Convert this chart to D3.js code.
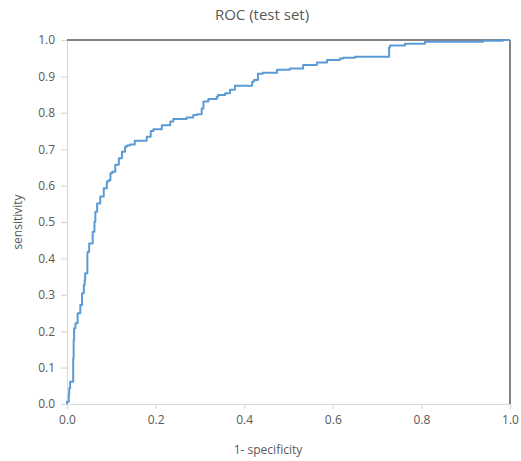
<!DOCTYPE html>
<html><head><meta charset="utf-8">
<script src="https://cdn.jsdelivr.net/npm/d3@7"></script>
<style>body{margin:0;background:#fff}</style>
</head><body>
<svg id="chart" width="521" height="461"></svg>
<script>
const fpr = [0,0.004,0.005,0.007,0.014,0.015,0.016,0.019,0.024,0.030,0.034,0.038,0.040,0.041,0.046,0.047,0.050,0.058,0.062,0.064,0.068,0.075,0.083,0.090,0.094,0.098,0.102,0.109,0.117,0.124,0.131,0.135,0.142,0.153,0.161,0.180,0.189,0.195,0.214,0.233,0.240,0.270,0.285,0.294,0.304,0.308,0.319,0.338,0.341,0.357,0.368,0.379,0.391,0.418,0.422,0.431,0.442,0.474,0.503,0.533,0.564,0.587,0.616,0.623,0.650,0.691,0.727,0.729,0.763,0.808,0.939,0.984,1];
const tpr = [0,0.006,0.025,0.043,0.061,0.126,0.176,0.208,0.222,0.249,0.272,0.304,0.327,0.341,0.359,0.414,0.418,0.441,0.473,0.501,0.528,0.551,0.570,0.593,0.611,0.615,0.634,0.638,0.657,0.675,0.693,0.707,0.710,0.713,0.723,0.723,0.734,0.750,0.755,0.766,0.776,0.783,0.787,0.794,0.796,0.812,0.831,0.838,0.844,0.849,0.854,0.863,0.874,0.874,0.885,0.890,0.907,0.910,0.918,0.922,0.931,0.938,0.945,0.949,0.951,0.954,0.954,0.979,0.985,0.990,0.995,0.998,1];
const xTicks = [0,0.2,0.4,0.6,0.8,1.0];
const yTicks = [0,0.1,0.2,0.3,0.4,0.5,0.6,0.7,0.8,0.9,1.0];
const title = "ROC (test set)";
const xTitle = "1- specificity";
const yTitle = "sensitivity";

const svg = d3.select("#chart");
const font = "'Open Sans', 'Liberation Sans', sans-serif";
const txt = "#595959";
const x = d3.scaleLinear().domain([0,1]).range([67,510]);
const y = d3.scaleLinear().domain([0,1]).range([404,40]);

const gx = svg.append("g").attr("transform","translate(0,404)")
  .call(d3.axisBottom(x).tickValues(xTicks).tickFormat(d3.format(".1f")).tickSizeOuter(0).tickSize(5).tickPadding(6));
const gy = svg.append("g").attr("transform","translate(67,0)")
  .call(d3.axisLeft(y).tickValues(yTicks).tickFormat(d3.format(".1f")).tickSizeOuter(0).tickSize(6).tickPadding(6));
[gx,gy].forEach(g=>{
  g.select(".domain").attr("stroke","#d9d9d9").attr("stroke-width",1.2);
  g.selectAll(".tick line").attr("stroke","#d9d9d9").attr("stroke-width",1.2);
  g.selectAll(".tick text").attr("fill",txt).style("font-family",font).style("font-size","12px");
});

svg.append("line").attr("x1",x(0)).attr("x2",x(1)).attr("y1",y(1)).attr("y2",y(1)).attr("stroke","#595959").attr("stroke-width",1.5);
svg.append("line").attr("x1",x(1)).attr("x2",x(1)).attr("y1",y(1)).attr("y2",y(0)).attr("stroke","#595959").attr("stroke-width",1.5);

const pts = fpr.map((f,i)=>[f,tpr[i]]);
svg.append("path").datum(pts)
  .attr("fill","none").attr("stroke","#5b9bd5").attr("stroke-width",2).attr("stroke-linejoin","round")
  .attr("d", d3.line().curve(d3.curveStepBefore).x(d=>x(d[0])).y(d=>y(d[1])));

svg.append("text").attr("x",262).attr("y",20).attr("text-anchor","middle")
  .attr("fill",txt).style("font-family",font).style("font-size","15px").text(title);
svg.append("text").attr("x",268).attr("y",454).attr("text-anchor","middle")
  .attr("fill",txt).style("font-family",font).style("font-size","12px").text(xTitle);
svg.append("text").attr("transform","translate(22,222) rotate(-90)").attr("text-anchor","middle")
  .attr("fill",txt).style("font-family",font).style("font-size","12px").text(yTitle);
</script>
</body></html>
